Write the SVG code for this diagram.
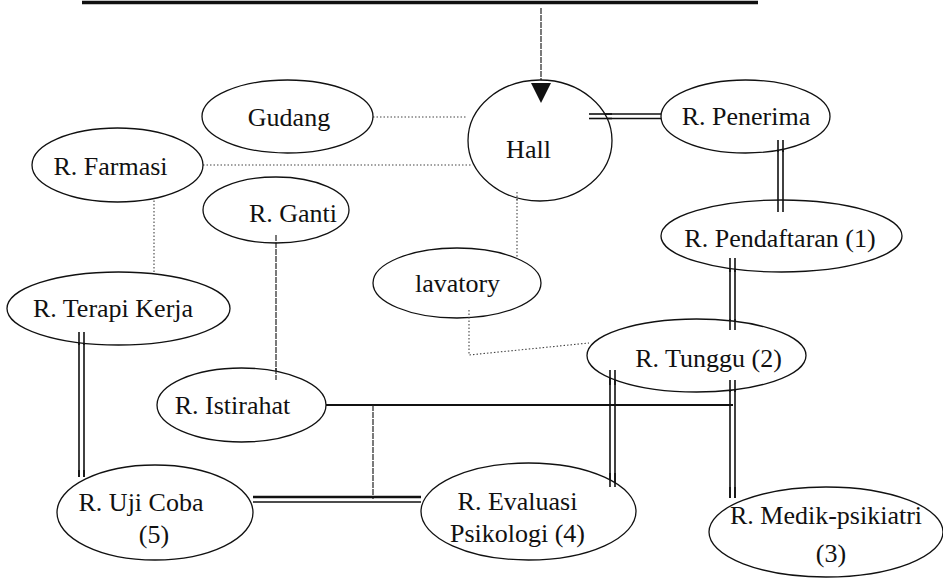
<svg xmlns="http://www.w3.org/2000/svg" width="943" height="580" viewBox="0 0 943 580">
<style>
.n{fill:#fff;stroke:#111;stroke-width:1.3}
.t{font-family:"Liberation Serif","Times New Roman",serif;font-size:26px;fill:#111;text-anchor:middle}
.dot{fill:none;stroke:#444;stroke-width:1.1;stroke-dasharray:1.5 2}
.thin{fill:none;stroke:#222;stroke-width:1.2;stroke-dasharray:6 1}
.dbl{fill:none;stroke:#111;stroke-width:1.6}
.solid{fill:none;stroke:#111;stroke-width:2.2}
</style>
<rect width="943" height="580" fill="#fff"/>
<line x1="82" y1="2.5" x2="758" y2="2.5" stroke="#111" stroke-width="3.5"/>
<g id="connectors">
  <line class="thin" x1="541" y1="8" x2="541" y2="85"/>
  <line class="dot" x1="373" y1="117" x2="467" y2="117"/>
  <line class="dot" x1="203" y1="165" x2="471" y2="165"/>
  <line class="dot" x1="517" y1="192" x2="517" y2="257"/>
  <line class="dot" x1="154" y1="190" x2="154" y2="272"/>
  <polyline class="dot" points="469,310 469,355 589,343"/>
  <line class="thin" x1="276" y1="235" x2="276" y2="380"/>
  <line class="dbl" x1="589" y1="114" x2="661" y2="114"/>
  <line class="dbl" x1="589" y1="118.5" x2="661" y2="118.5"/>
  <line class="dbl" x1="778" y1="140" x2="778" y2="212"/>
  <line class="dbl" x1="783" y1="140" x2="783" y2="212"/>
  <line class="dbl" x1="730" y1="258" x2="730" y2="330"/>
  <line class="dbl" x1="735" y1="258" x2="735" y2="330"/>
  <line class="dbl" x1="730" y1="380" x2="730" y2="498"/>
  <line class="dbl" x1="735" y1="380" x2="735" y2="498"/>
  <line class="dbl" x1="610" y1="370" x2="610" y2="487"/>
  <line class="dbl" x1="615" y1="370" x2="615" y2="487"/>
  <line class="dbl" x1="79" y1="332" x2="79" y2="477"/>
  <line class="dbl" x1="84" y1="332" x2="84" y2="477"/>
  <line class="solid" x1="326" y1="405" x2="733" y2="405"/>
  <line class="thin" x1="373" y1="405" x2="373" y2="499"/>
  <line stroke="#111" stroke-width="2.4" x1="253" y1="497" x2="421" y2="497"/>
  <line class="dbl" x1="253" y1="502" x2="421" y2="502"/>
</g>
<g id="gudang"><ellipse class="n" cx="287.5" cy="116.5" rx="85.5" ry="36.5"/><text class="t" x="289" y="126">Gudang</text></g>
<g id="hall"><ellipse class="n" cx="540" cy="140.5" rx="72" ry="60.5"/><text class="t" x="528.5" y="158">Hall</text></g>
<g id="penerima"><ellipse class="n" cx="745.5" cy="116.5" rx="84.5" ry="36.5"/><text class="t" x="746" y="125">R. Penerima</text></g>
<g id="farmasi"><ellipse class="n" cx="117.5" cy="165" rx="85.5" ry="37"/><text class="t" x="110.5" y="175">R. Farmasi</text></g>
<g id="ganti"><ellipse class="n" cx="276" cy="210" rx="73" ry="33"/><text class="t" x="293" y="222">R. Ganti</text></g>
<g id="pendaftaran"><ellipse class="n" cx="781.5" cy="236" rx="120.5" ry="36"/><text class="t" x="780" y="247">R. Pendaftaran (1)</text></g>
<g id="lavatory"><ellipse class="n" cx="457" cy="283" rx="84" ry="35"/><text class="t" x="457.5" y="292">lavatory</text></g>
<g id="terapi"><ellipse class="n" cx="118.5" cy="308.5" rx="111.5" ry="36.5"/><text class="t" x="113" y="317">R. Terapi Kerja</text></g>
<g id="tunggu"><ellipse class="n" cx="696.5" cy="355.5" rx="109.5" ry="36.5"/><text class="t" x="708.5" y="367">R. Tunggu (2)</text></g>
<g id="istirahat"><ellipse class="n" cx="241.5" cy="405" rx="84.5" ry="37"/><text class="t" x="232.5" y="414">R. Istirahat</text></g>
<g id="ujicoba"><ellipse class="n" cx="155" cy="512.5" rx="98" ry="47.5"/><text class="t" x="141" y="511">R. Uji Coba</text><text class="t" x="154" y="543">(5)</text></g>
<g id="evaluasi"><ellipse class="n" cx="528.5" cy="511.5" rx="107.5" ry="48.5"/><text class="t" x="517.5" y="510">R. Evaluasi</text><text class="t" x="517.5" y="542">Psikologi (4)</text></g>
<g id="medik"><ellipse class="n" cx="826" cy="532" rx="117" ry="45"/><text class="t" x="826" y="524">R. Medik-psikiatri</text><text class="t" x="831" y="562">(3)</text></g>
<g id="connector-ends">
  <polygon points="531,83 551,83 541,103" fill="#111"/>
  <line class="dbl" x1="778" y1="140" x2="778" y2="152"/>
  <line class="dbl" x1="783" y1="140" x2="783" y2="152"/>
  <line class="dbl" x1="778" y1="200" x2="778" y2="212"/>
  <line class="dbl" x1="783" y1="200" x2="783" y2="212"/>
  <line class="dbl" x1="730" y1="258" x2="730" y2="272"/>
  <line class="dbl" x1="735" y1="258" x2="735" y2="272"/>
  <line class="dbl" x1="730" y1="319" x2="730" y2="330"/>
  <line class="dbl" x1="735" y1="319" x2="735" y2="330"/>
  <line class="dbl" x1="730" y1="380" x2="730" y2="392"/>
  <line class="dbl" x1="735" y1="380" x2="735" y2="392"/>
  <line class="dbl" x1="610" y1="370" x2="610" y2="385"/>
  <line class="dbl" x1="615" y1="370" x2="615" y2="385"/>
  <line class="dbl" x1="79" y1="332" x2="79" y2="345"/>
  <line class="dbl" x1="84" y1="332" x2="84" y2="345"/>
  <line class="dbl" x1="589" y1="114" x2="612" y2="114"/>
  <line class="dbl" x1="589" y1="118.5" x2="612" y2="118.5"/>
  <line class="dot" x1="517" y1="192" x2="517" y2="201"/>
  <line class="dot" x1="469" y1="310" x2="469" y2="318"/>
  <line class="thin" x1="276" y1="235" x2="276" y2="243"/>
  <line class="thin" x1="276" y1="368" x2="276" y2="380"/>
  <line class="dbl" x1="610" y1="473" x2="610" y2="487"/>
  <line class="dbl" x1="615" y1="473" x2="615" y2="487"/>
  <line class="dbl" x1="79" y1="470" x2="79" y2="477"/>
  <line class="dbl" x1="84" y1="470" x2="84" y2="477"/>
  <line class="dbl" x1="730" y1="487" x2="730" y2="498"/>
  <line class="dbl" x1="735" y1="487" x2="735" y2="498"/>
</g>
</svg>
